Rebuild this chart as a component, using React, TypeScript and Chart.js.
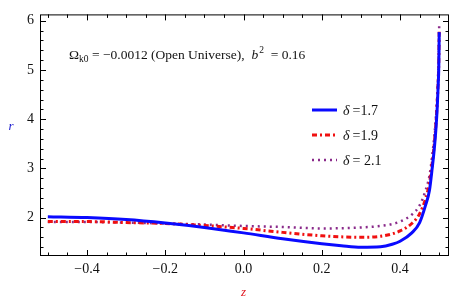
import React, { useEffect, useRef } from "react";
import { Chart, registerables } from "chart.js";

Chart.register(...registerables);

// z values (shared by all curves)
const zValues = [-0.5, -0.4, -0.3, -0.2, -0.1, 0.0, 0.1, 0.2, 0.25, 0.3, 0.35, 0.38, 0.4, 0.43, 0.45, 0.465, 0.475, 0.482, 0.488, 0.492, 0.495, 0.497, 0.499, 0.5];

// r(z) for delta = 1.7
const rDelta17 = [2.02, 2.0, 1.96, 1.89, 1.8, 1.69, 1.57, 1.47, 1.43, 1.4, 1.41, 1.46, 1.52, 1.69, 1.9, 2.25, 2.55, 3.0, 3.45, 3.85, 4.25, 4.62, 5.1, 5.77];
// r(z) for delta = 1.9
const rDelta19 = [1.92, 1.92, 1.9, 1.88, 1.84, 1.78, 1.7, 1.63, 1.61, 1.6, 1.62, 1.67, 1.73, 1.88, 2.08, 2.38, 2.7, 3.1, 3.55, 3.95, 4.35, 4.7, 5.2, 5.83];
// r(z) for delta = 2.1
const rDelta21 = [1.91, 1.91, 1.9, 1.88, 1.86, 1.83, 1.81, 1.78, 1.785, 1.8, 1.83, 1.87, 1.92, 2.06, 2.25, 2.55, 2.85, 3.25, 3.7, 4.1, 4.5, 4.85, 5.35, 5.96];

const legendLabels = ["1.7", "1.9", " 2.1"];
const xTickValues = [-0.4, -0.2, 0.0, 0.2, 0.4];
const yTickValues = [2, 3, 4, 5, 6];

const SERIF = "'Liberation Serif', 'DejaVu Serif', serif";

const decorPlugin = {
  id: "decor",
  afterDraw(chart: any) {
    const { ctx, chartArea, scales } = chart;
    const { left, right, top, bottom } = chartArea;
    const xs = scales.x;
    const ys = scales.y;
    ctx.save();
    // frame
    ctx.strokeStyle = "#000";
    ctx.lineWidth = 1;
    ctx.strokeRect(left + 0.5, top + 0.5, right - left - 1, bottom - top - 1);
    // x ticks (inward, bottom and top)
    ctx.beginPath();
    for (let k = -10; k <= 10; k++) {
      const v = k * 0.05;
      if (v < xs.min || v > xs.max) continue;
      const px = Math.round(xs.getPixelForValue(v)) + 0.5;
      const len = k % 4 === 0 ? 6 : 3.5;
      ctx.moveTo(px, bottom);
      ctx.lineTo(px, bottom - len);
      ctx.moveTo(px, top);
      ctx.lineTo(px, top + len);
    }
    // y ticks (inward, left and right)
    for (let k = 7; k <= 30; k++) {
      const v = k * 0.2;
      if (v < ys.min || v > ys.max) continue;
      const py = Math.round(ys.getPixelForValue(v)) + 0.5;
      const len = k % 5 === 0 ? 6 : 3.5;
      ctx.moveTo(left, py);
      ctx.lineTo(left + len, py);
      ctx.moveTo(right, py);
      ctx.lineTo(right - len, py);
    }
    ctx.stroke();

    // axis titles
    ctx.textAlign = "center";
    ctx.textBaseline = "middle";
    ctx.font = `italic 13px ${SERIF}`;
    ctx.fillStyle = "#e0141e";
    ctx.fillText("z", (left + right) / 2 - 1, 293);
    ctx.fillStyle = "#2020d0";
    ctx.fillText("r", 11, 127);

    // annotation
    ctx.textAlign = "left";
    ctx.textBaseline = "alphabetic";
    ctx.fillStyle = "#111";
    let x = 69;
    const base = 59;
    ctx.font = `13.5px ${SERIF}`;
    ctx.fillText("Ω", x, base);
    x += ctx.measureText("Ω").width;
    ctx.font = `9.5px ${SERIF}`;
    ctx.fillText("k0", x, base + 3);
    x += ctx.measureText("k0").width;
    ctx.font = `13.5px ${SERIF}`;
    const mid = " = −0.0012 (Open Universe),  ";
    ctx.fillText(mid, x, base);
    x += ctx.measureText(mid).width;
    ctx.font = `italic 13.5px ${SERIF}`;
    ctx.fillText("b", x, base);
    x += ctx.measureText("b").width + 1;
    ctx.font = `9.5px ${SERIF}`;
    ctx.fillText("2", x, base - 6);
    x += ctx.measureText("2").width;
    ctx.font = `13.5px ${SERIF}`;
    ctx.fillText("  = 0.16", x, base);

    // legend
    const rows = [110, 135, 160];
    chart.data.datasets.forEach((ds: any, i: number) => {
      const y = rows[i];
      ctx.save();
      ctx.strokeStyle = ds.borderColor;
      ctx.lineWidth = ds.borderWidth;
      ctx.setLineDash(ds.borderDash || []);
      ctx.beginPath();
      ctx.moveTo(312, y);
      ctx.lineTo(337, y);
      ctx.stroke();
      ctx.restore();
      ctx.fillStyle = "#111";
      ctx.textBaseline = "middle";
      let tx = 343;
      ctx.font = `italic 14px ${SERIF}`;
      ctx.fillText("δ", tx, y + 1);
      tx += ctx.measureText("δ").width + 3;
      ctx.font = `14px ${SERIF}`;
      ctx.fillText("=" + legendLabels[i], tx, y + 1);
    });
    ctx.restore();
  },
};

export default function App() {
  const canvasRef = useRef<HTMLCanvasElement | null>(null);

  useEffect(() => {
    if (!canvasRef.current) return;
    const mk = (arr: number[]) => zValues.map((z, i) => ({ x: z, y: arr[i] }));
    const chart = new Chart(canvasRef.current, {
      type: "line",
      data: {
        datasets: [
          {
            label: "δ =1.7",
            data: mk(rDelta17),
            borderColor: "#0a0aff",
            borderWidth: 3,
            pointRadius: 0,
            cubicInterpolationMode: "monotone",
          },
          {
            label: "δ =1.9",
            data: mk(rDelta19),
            borderColor: "#f01010",
            borderWidth: 3,
            borderDash: [5, 3, 2, 3],
            pointRadius: 0,
            cubicInterpolationMode: "monotone",
          },
          {
            label: "δ = 2.1",
            data: mk(rDelta21),
            borderColor: "#8a2a8a",
            borderWidth: 2.5,
            borderDash: [2, 4],
            pointRadius: 0,
            cubicInterpolationMode: "monotone",
          },
        ],
      } as any,
      options: {
        animation: false,
        responsive: true,
        maintainAspectRatio: false,
        layout: { padding: { top: 2, right: 1, left: 0, bottom: 0 } },
        plugins: { legend: { display: false }, tooltip: { enabled: false } },
        scales: {
          x: {
            type: "linear",
            min: -0.52,
            max: 0.525,
            grid: { display: false, drawTicks: false },
            border: { display: false },
            afterBuildTicks: (s: any) => {
              s.ticks = xTickValues.map((v) => ({ value: v }));
            },
            afterFit: (s: any) => {
              s.height = 51;
            },
            ticks: {
              padding: 5,
              color: "#111",
              font: { family: SERIF, size: 14 },
              callback: (v: any) => {
                const n = Number(v);
                if (Math.abs(n) < 1e-9) return "0.0";
                return (n < 0 ? "−" : "") + Math.abs(n).toFixed(1);
              },
            },
          },
          y: {
            type: "linear",
            min: 1.22,
            max: 6.13,
            grid: { display: false, drawTicks: false },
            border: { display: false },
            afterBuildTicks: (s: any) => {
              s.ticks = yTickValues.map((v) => ({ value: v }));
            },
            afterFit: (s: any) => {
              s.width = 40;
            },
            ticks: {
              padding: 6,
              color: "#111",
              font: { family: SERIF, size: 14 },
              callback: (v: any) => String(Math.round(Number(v))),
            },
          },
        },
      } as any,
      plugins: [decorPlugin],
    });
    return () => chart.destroy();
  }, []);

  return (
    <div style={{ position: "fixed", left: 0, top: 0, width: 450, height: 307, background: "#fff" }}>
      <canvas ref={canvasRef} />
    </div>
  );
}
